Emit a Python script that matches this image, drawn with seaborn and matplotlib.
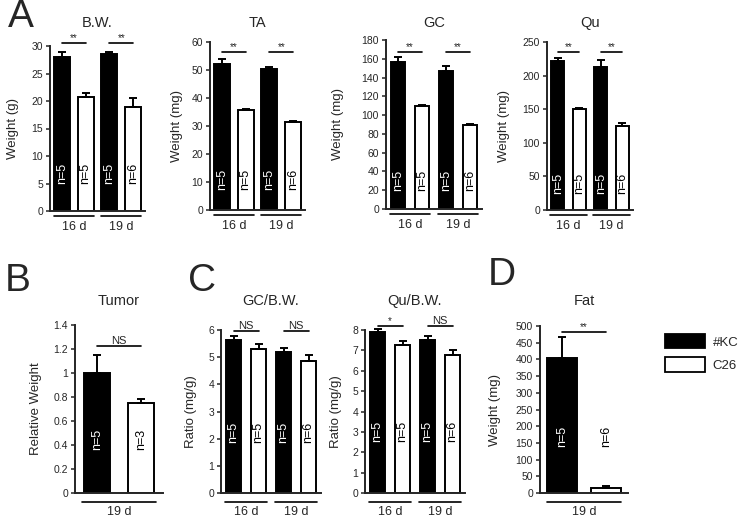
import numpy as np
import pandas as pd
import matplotlib
matplotlib.use('Agg')
import matplotlib.pyplot as plt
import seaborn as sns
from matplotlib.patches import Patch
from matplotlib.transforms import blended_transform_factory

# --- data ---
groups = ['#KC', 'C26']
days2 = ['16 d', '19 d']
days1 = ['19 d']

bw_kc, bw_kc_err = [28.0, 28.5], [0.9, 0.5]
bw_c26, bw_c26_err = [20.8, 19.0], [0.7, 1.5]

ta_kc, ta_kc_err = [52.0, 50.3], [1.8, 0.6]
ta_c26, ta_c26_err = [35.8, 31.6], [0.3, 0.3]

gc_kc, gc_kc_err = [157, 147], [5, 5]
gc_c26, gc_c26_err = [110, 90], [1.2, 1.0]

qu_kc, qu_kc_err = [221, 213], [5, 10]
qu_c26, qu_c26_err = [151, 125], [1.5, 4]

tumor_kc, tumor_kc_err = [1.0], [0.15]
tumor_c26, tumor_c26_err = [0.75], [0.035]

gcbw_kc, gcbw_kc_err = [5.65, 5.18], [0.14, 0.16]
gcbw_c26, gcbw_c26_err = [5.3, 4.85], [0.19, 0.22]

qubw_kc, qubw_kc_err = [7.88, 7.5], [0.16, 0.21]
qubw_c26, qubw_c26_err = [7.28, 6.75], [0.2, 0.29]

fat_kc, fat_kc_err = [403], [64]
fat_c26, fat_c26_err = [16], [4]

n_kc2, n_c26_2 = ['n=5', 'n=5'], ['n=5', 'n=6']
n_gc_c26 = ['n=5', 'n=6']

W, H = 741, 520

sns.set_style('ticks')
plt.rcParams['font.family'] = ['Liberation Sans', 'DejaVu Sans']
plt.rcParams['axes.linewidth'] = 1.4

fig = plt.figure(figsize=(W / 100, H / 100), dpi=100)


def rect(x0, x1, ytop, ybot):
    return [x0 / W, 1 - ybot / H, (x1 - x0) / W, (ybot - ytop) / H]


def panel(r, days, kc, kc_err, c26, c26_err, n_kc, n_c26, ylim, yticks,
          ylabel, title, sig, n_frac, gap, lab_off, top_row=True, ticklabels=None):
    ax = fig.add_axes(rect(*r))
    df = pd.DataFrame({
        'day': days * 2,
        'group': [groups[0]] * len(days) + [groups[1]] * len(days),
        'value': list(kc) + list(c26),
    })
    sns.barplot(data=df, x='day', y='value', hue='group', hue_order=groups,
                palette={'#KC': 'black', 'C26': 'white'}, edgecolor='black',
                linewidth=1.4, width=1.0, gap=gap, errorbar=None,
                legend=False, ax=ax)
    bars = sorted(ax.patches, key=lambda p: p.get_x())
    vals, errs, labs = [], [], []
    for i in range(len(days)):
        vals += [kc[i], c26[i]]
        errs += [kc_err[i], c26_err[i]]
        labs += [n_kc[i], n_c26[i]]
    xs = [p.get_x() + p.get_width() / 2 for p in bars]
    ax.errorbar(xs, vals, yerr=[np.zeros(len(errs)), errs], fmt='none',
                ecolor='black', elinewidth=1.4, capsize=3, capthick=1.4,
                zorder=5, clip_on=False)
    tr = blended_transform_factory(ax.transData, ax.transAxes)
    for j, (x, lab) in enumerate(zip(xs, labs)):
        ax.text(x, n_frac, lab, transform=tr, rotation=90, ha='center',
                va='center', fontsize=9, color='white' if j % 2 == 0 else 'black')
    # significance bars
    for gi, (txt, yv) in enumerate(sig):
        x0, x1 = xs[2 * gi], xs[2 * gi + 1]
        ax.plot([x0, x1], [yv, yv], color='black', lw=1.2, clip_on=False)
        if txt == 'NS':
            ax.text((x0 + x1) / 2, yv, txt, ha='center', va='bottom',
                    fontsize=8)
        else:
            ax.text((x0 + x1) / 2, yv, txt, ha='center', va='bottom',
                    fontsize=7)
    ax.set_xlim(-0.5, len(days) - 0.5)
    ax.set_ylim(*ylim)
    ax.set_yticks(yticks)
    if ticklabels is not None:
        ax.set_yticklabels(ticklabels)
    ax.tick_params(axis='y', length=3, width=1.1, labelsize=7.5, pad=2)
    ax.tick_params(axis='x', length=0, labelbottom=False)
    ax.set_xlabel('')
    ax.set_ylabel(ylabel, fontsize=9.5)
    hpx = r[1] - r[0]
    # label anchor is its right edge; shift by half the text height
    ax.yaxis.set_label_coords(-(lab_off - 6) / hpx, 0.5)
    sns.despine(ax=ax)
    # day labels below axis
    vpx = r[3] - r[2]
    line_off = 5 if top_row else 9
    text_off = 16 if top_row else 19
    for g, d in enumerate(days):
        ax.plot([g - 0.42, g + 0.42], [-line_off / vpx] * 2, transform=tr,
                color='black', lw=1.2, clip_on=False)
        ax.text(g, -text_off / vpx, d, transform=tr, ha='center', va='center',
                fontsize=9)
    # title
    cx = (r[0] + r[1]) / 2
    ty = 23 if top_row else 301
    fig.text(cx / W, 1 - ty / H, title, ha='center', va='center', fontsize=10.5)
    return ax


# panel A
panel((50, 145, 46, 211), days2, bw_kc, bw_kc_err, bw_c26, bw_c26_err, n_kc2, n_c26_2,
      (0, 30), range(0, 31, 5), 'Weight (g)', 'B.W.', [('**', 30.5), ('**', 30.5)],
      0.23, 0.33, 37)
panel((210, 305, 42, 210), days2, ta_kc, ta_kc_err, ta_c26, ta_c26_err, n_kc2, n_c26_2,
      (0, 60), range(0, 61, 10), 'Weight (mg)', 'TA', [('**', 56.4), ('**', 56.4)],
      0.18, 0.33, 33)
panel((386, 482, 40, 209), days2, gc_kc, gc_kc_err, gc_c26, gc_c26_err, n_kc2, n_gc_c26,
      (0, 180), range(0, 181, 20), 'Weight (mg)', 'GC', [('**', 167), ('**', 167)],
      0.17, 0.4, 48)
panel((547, 633, 42, 210), days2, qu_kc, qu_kc_err, qu_c26, qu_c26_err, n_kc2, n_c26_2,
      (0, 250), range(0, 251, 50), 'Weight (mg)', 'Qu', [('**', 235), ('**', 235)],
      0.16, 0.38, 43)

# panel B
panel((75, 163, 325, 493), days1, tumor_kc, tumor_kc_err, tumor_c26, tumor_c26_err,
      ['n=5'], ['n=3'], (0, 1.4), np.arange(0, 1.41, 0.2), 'Relative Weight', 'Tumor',
      [('NS', 1.225)], 0.32, 0.4, 39, top_row=False,
      ticklabels=['0', '0.2', '0.4', '0.6', '0.8', '1', '1.2', '1.4'])

# panel C
panel((221, 321, 330, 493), days2, gcbw_kc, gcbw_kc_err, gcbw_c26, gcbw_c26_err,
      n_kc2, n_c26_2, (0, 6), range(0, 7), 'Ratio (mg/g)', 'GC/B.W.',
      [('NS', 5.96), ('NS', 5.96)], 0.37, 0.42, 30, top_row=False)
panel((365, 465, 330, 493), days2, qubw_kc, qubw_kc_err, qubw_c26, qubw_c26_err,
      n_kc2, n_c26_2, (0, 8), range(0, 9), 'Ratio (mg/g)', 'Qu/B.W.',
      [('*', 8.2), ('NS', 8.2)], 0.38, 0.42, 29, top_row=False)

# panel D
panel((540, 628, 326, 493), days1, fat_kc, fat_kc_err, fat_c26, fat_c26_err,
      ['n=5'], ['n=6'], (0, 500), range(0, 501, 50), 'Weight (mg)', 'Fat',
      [('**', 482)], 0.34, 0.32, 45, top_row=False)

# panel letters
for letter, x, y in [('A', 8, -1), ('B', 5, 263), ('C', 188, 263), ('D', 488, 257)]:
    fig.text(x / W, 1 - y / H, letter, ha='left', va='top', fontsize=28)

# legend
handles = [Patch(facecolor='black', edgecolor='black', lw=1.3, label='#KC'),
           Patch(facecolor='white', edgecolor='black', lw=1.3, label='C26')]
fig.legend(handles=handles, loc='upper left', bbox_to_anchor=(665 / W, 1 - 334 / H),
           frameon=False, fontsize=9.5, handlelength=3.0, handleheight=1.3,
           labelspacing=0.65, borderpad=0, borderaxespad=0, handletextpad=0.6)

fig.savefig('out.png', dpi=100)
